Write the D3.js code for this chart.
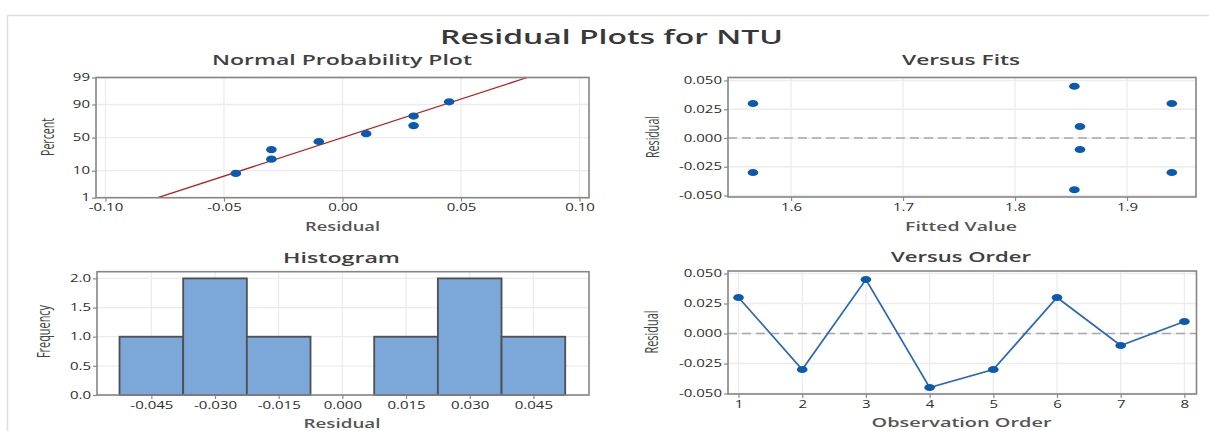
<!DOCTYPE html>
<html>
<head>
<meta charset="utf-8">
<script src="https://cdn.jsdelivr.net/npm/d3@7"></script>
<style>
  html, body { margin: 0; padding: 0; background: #fff; }
  svg { display: block; font-family: "Open Sans", "Noto Sans", sans-serif; }
</style>
</head>
<body>
<svg id="chart" width="1209" height="431"></svg>
<script>
// ---- data -------------------------------------------------------------
const observation = [1, 2, 3, 4, 5, 6, 7, 8];
const residual    = [0.030, -0.030, 0.045, -0.045, -0.030, 0.030, -0.010, 0.010];
const fittedValue = [1.566, 1.566, 1.853, 1.853, 1.940, 1.940, 1.858, 1.858];

// normal probability plot: ordered residuals and their plotting percents
const nppResidual = [-0.045, -0.030, -0.030, -0.010, 0.010, 0.030, 0.030, 0.045];
const nppPercent  = [8.3, 20.2, 32.1, 44.0, 56.0, 67.9, 79.8, 91.7];
const fitMean = 0.0;
const fitStDev = 0.0335;
const fitPercentEnds = [1, 99];

// histogram bins
const binCenter = [-0.045, -0.030, -0.015, 0.000, 0.015, 0.030, 0.045];
const binCount  = [1, 2, 1, 0, 1, 2, 1];
const binWidth  = 0.015;

// tick values and labels
const nppXTicks   = [-0.10, -0.05, 0.00, 0.05, 0.10];
const nppXLabels  = ["-0.10", "-0.05", "0.00", "0.05", "0.10"];
const nppYTicks   = [1, 10, 50, 90, 99];
const residTicks  = [-0.050, -0.025, 0.000, 0.025, 0.050];
const residLabels = ["-0.050", "-0.025", "0.000", "0.025", "0.050"];
const fitXTicks   = [1.6, 1.7, 1.8, 1.9];
const fitXLabels  = ["1.6", "1.7", "1.8", "1.9"];
const histXLabels = ["-0.045", "-0.030", "-0.015", "0.000", "0.015", "0.030", "0.045"];
const histYTicks  = [0, 0.5, 1.0, 1.5, 2.0];
const histYLabels = ["0.0", "0.5", "1.0", "1.5", "2.0"];
const orderLabels = ["1", "2", "3", "4", "5", "6", "7", "8"];

// ---- helpers ----------------------------------------------------------
const K = 1.5;              // horizontal stretch of the lettering
const BLUE = "#0b5aad";
const GRID = "#ececec";
const FRAME = "#858585";

// inverse standard normal CDF (Acklam's rational approximation)
function probit(p) {
  const a = [-39.69683028665376, 220.9460984245205, -275.9285104469687, 138.3577518672690, -30.66479806614716, 2.506628277459239];
  const b = [-54.47609879822406, 161.5858368580409, -155.6989798598866, 66.80131188771972, -13.28068155288572];
  const c = [-0.007784894002430293, -0.3223964580411365, -2.400758277161838, -2.549732539343734, 4.374664141464968, 2.938163982698783];
  const d = [0.007784695709041462, 0.3224671290700398, 2.445134137142996, 3.754408661907416];
  const pl = 0.02425;
  let q, r;
  if (p < pl) {
    q = Math.sqrt(-2 * Math.log(p));
    return (((((c[0]*q+c[1])*q+c[2])*q+c[3])*q+c[4])*q+c[5]) / ((((d[0]*q+d[1])*q+d[2])*q+d[3])*q+1);
  } else if (p <= 1 - pl) {
    q = p - 0.5; r = q * q;
    return (((((a[0]*r+a[1])*r+a[2])*r+a[3])*r+a[4])*r+a[5])*q / (((((b[0]*r+b[1])*r+b[2])*r+b[3])*r+b[4])*r+1);
  } else {
    q = Math.sqrt(-2 * Math.log(1 - p));
    return -(((((c[0]*q+c[1])*q+c[2])*q+c[3])*q+c[4])*q+c[5]) / ((((d[0]*q+d[1])*q+d[2])*q+d[3])*q+1);
  }
}

const svg = d3.select("#chart");

function label(x, y, s, o = {}) {
  const k = o.k ?? K;
  const t = svg.append("text")
    .attr("transform", `translate(${x},${y}) scale(${k},1)` + (o.rot ? " rotate(-90)" : ""))
    .attr("text-anchor", o.anchor || "middle")
    .attr("font-size", o.size || 12)
    .attr("font-weight", o.weight || 400)
    .attr("fill", o.fill || "#3a3a3a")
    .text(s);
  if (o.dy) t.attr("dy", o.dy);
  if (o.len) t.attr("textLength", o.rot ? o.len : o.len / k).attr("lengthAdjust", "spacingAndGlyphs");
  return t;
}

function styleAxis(g, side) {
  g.select(".domain").remove();
  g.selectAll(".tick line").attr("stroke", "#8a8a8a").attr("stroke-width", 1.2);
  g.selectAll(".tick text")
    .attr("font-family", "\"Open Sans\", \"Noto Sans\", sans-serif")
    .attr("font-size", 10)
    .attr("fill", "#2e2e2e")
    .each(function () {
      const t = d3.select(this);
      if (side === "left") {
        const xx = +t.attr("x");
        t.attr("x", 0).attr("transform", `translate(${xx},0) scale(${K},1)`);
      } else {
        t.attr("transform", `scale(${K},1)`);
      }
    });
}

// one panel: grid and axes
function panel(x, y, xTickVals, xTickFmt, yTickVals, yTickFmt) {
  const [x0, x1] = x.range();
  const [y0, y1] = y.range();
  const g = svg.append("g");
  g.selectAll(".gx").data(xTickVals).join("line")
    .attr("x1", d => x(d)).attr("x2", d => x(d)).attr("y1", y1).attr("y2", y0)
    .attr("stroke", GRID).attr("stroke-width", 1.3);
  g.selectAll(".gy").data(yTickVals).join("line")
    .attr("x1", x0).attr("x2", x1).attr("y1", d => y(d)).attr("y2", d => y(d))
    .attr("stroke", GRID).attr("stroke-width", 1.3);

  svg.append("g").attr("transform", `translate(0,${y0})`)
    .call(d3.axisBottom(x).tickValues(xTickVals).tickFormat(xTickFmt).tickSize(4).tickSizeOuter(0).tickPadding(2.5))
    .call(a => styleAxis(a, "bottom"));
  svg.append("g").attr("transform", `translate(${x0},0)`)
    .call(d3.axisLeft(y).tickValues(yTickVals).tickFormat(yTickFmt).tickSize(4).tickSizeOuter(0).tickPadding(2))
    .call(a => styleAxis(a, "left"));
  return g;
}

function drawFrame(x, y) {
  const [x0, x1] = x.range();
  const [y0, y1] = y.range();
  svg.append("rect").attr("x", x0).attr("y", y1).attr("width", x1 - x0).attr("height", y0 - y1)
    .attr("fill", "none").attr("stroke", FRAME).attr("stroke-width", 1.6);
}

function points(xs, ys) {
  svg.append("g").selectAll("ellipse").data(xs).join("ellipse")
    .attr("cx", d => d).attr("cy", (d, i) => ys[i])
    .attr("rx", 5.3).attr("ry", 3.6).attr("fill", BLUE);
}

// ---- outer border -----------------------------------------------------
svg.append("rect").attr("x", 7.5).attr("y", 15.5).attr("width", 1400).attr("height", 600)
  .attr("fill", "none").attr("stroke", "#dedede").attr("stroke-width", 1.5);

// ---- title --------------------------------------------------------------
label(611.5, 44, "Residual Plots for NTU", { size: 20, weight: 600, len: 343, fill: "#383838" });

// ---- Normal Probability Plot -----------------------------------------
{
  const x = d3.scaleLinear().domain([-0.104, 0.104]).range([96, 589]);
  const y = d3.scaleLinear().domain([probit(0.01), probit(0.99)]).range([197.7, 77.5]);
  const yTicksZ = nppYTicks.map(p => probit(p / 100));
  panel(x, y, nppXTicks, (d, i) => nppXLabels[i], yTicksZ, (d, i) => nppYTicks[i]);

  const ends = fitPercentEnds.map(p => probit(p / 100));
  svg.append("path")
    .attr("d", d3.line().x(z => x(fitMean + fitStDev * z)).y(z => y(z))(ends))
    .attr("fill", "none").attr("stroke", "#b0201e").attr("stroke-width", 1.3);

  points(nppResidual.map(v => x(v)), nppPercent.map(p => y(probit(p / 100))));
  drawFrame(x, y);

  label(342, 65, "Normal Probability Plot", { size: 14, weight: 600, len: 260, fill: "#404040" });
  label(342.5, 231, "Residual", { size: 12.5, weight: 600, len: 75, fill: "#555" });
  label(47.5, 137, "Percent", { size: 13, rot: true, len: 38, dy: "0.35em", k: 1.45, fill: "#444" });
}

// ---- Versus Fits ------------------------------------------------------
{
  const x = d3.scaleLinear().domain([1.5437, 1.9616]).range([728, 1196]);
  const y = d3.scaleLinear().domain([-0.0513, 0.0526]).range([197, 77.5]);
  panel(x, y, fitXTicks, (d, i) => fitXLabels[i], residTicks, (d, i) => residLabels[i]);

  svg.append("line").attr("x1", 728).attr("x2", 1196).attr("y1", y(0)).attr("y2", y(0))
    .attr("stroke", "#a8a8a8").attr("stroke-width", 1.4).attr("stroke-dasharray", "9,5");

  points(fittedValue.map(v => x(v)), residual.map(v => y(v)));
  drawFrame(x, y);

  label(961, 65, "Versus Fits", { size: 14, weight: 600, len: 118, fill: "#404040" });
  label(961, 231, "Fitted Value", { size: 12.5, weight: 600, len: 112, fill: "#555" });
  label(652, 137, "Residual", { size: 13, rot: true, len: 42, dy: "0.35em", k: 1.45, fill: "#444" });
}

// ---- Histogram ----------------------------------------------------------
{
  const x = d3.scaleLinear().domain([-0.0578, 0.0581]).range([97, 589]);
  const y = d3.scaleLinear().domain([0, 2.115]).range([395, 271.7]);
  panel(x, y, binCenter, (d, i) => histXLabels[i], histYTicks, (d, i) => histYLabels[i]);

  const bins = binCenter.map((c, i) => ({ c, n: binCount[i] })).filter(b => b.n > 0);
  svg.append("g").selectAll("rect").data(bins).join("rect")
    .attr("x", b => x(b.c - binWidth / 2))
    .attr("width", b => x(b.c + binWidth / 2) - x(b.c - binWidth / 2))
    .attr("y", b => y(b.n))
    .attr("height", b => y(0) - y(b.n))
    .attr("fill", "#7ba7d9").attr("stroke", "#4f4f4f").attr("stroke-width", 1.8);
  drawFrame(x, y);

  label(341.5, 263, "Histogram", { size: 14, weight: 600, len: 117, fill: "#404040" });
  label(342, 427.5, "Residual", { size: 12.5, weight: 600, len: 77, fill: "#555" });
  label(43.5, 331.5, "Frequency", { size: 13, rot: true, len: 53, dy: "0.35em", k: 1.45, fill: "#444" });
}

// ---- Versus Order -------------------------------------------------------
{
  const x = d3.scaleLinear().domain([0.835, 8.19]).range([728, 1196.5]);
  const y = d3.scaleLinear().domain([-0.0504, 0.0521]).range([394, 271]);
  panel(x, y, observation, (d, i) => orderLabels[i], residTicks, (d, i) => residLabels[i]);

  svg.append("line").attr("x1", 728).attr("x2", 1196.5).attr("y1", y(0)).attr("y2", y(0))
    .attr("stroke", "#a8a8a8").attr("stroke-width", 1.4).attr("stroke-dasharray", "9,5");

  svg.append("path")
    .attr("d", d3.line().x((d, i) => x(observation[i])).y(d => y(d))(residual))
    .attr("fill", "none").attr("stroke", "#2a68b8").attr("stroke-width", 1.7);
  points(observation.map(v => x(v)), residual.map(v => y(v)));
  drawFrame(x, y);

  label(961, 262, "Versus Order", { size: 14, weight: 600, len: 140, fill: "#404040" });
  label(961.5, 427, "Observation Order", { size: 12.5, weight: 600, len: 180, fill: "#555" });
  label(651, 332, "Residual", { size: 13, rot: true, len: 43, dy: "0.35em", k: 1.45, fill: "#444" });
}
</script>
</body>
</html>
